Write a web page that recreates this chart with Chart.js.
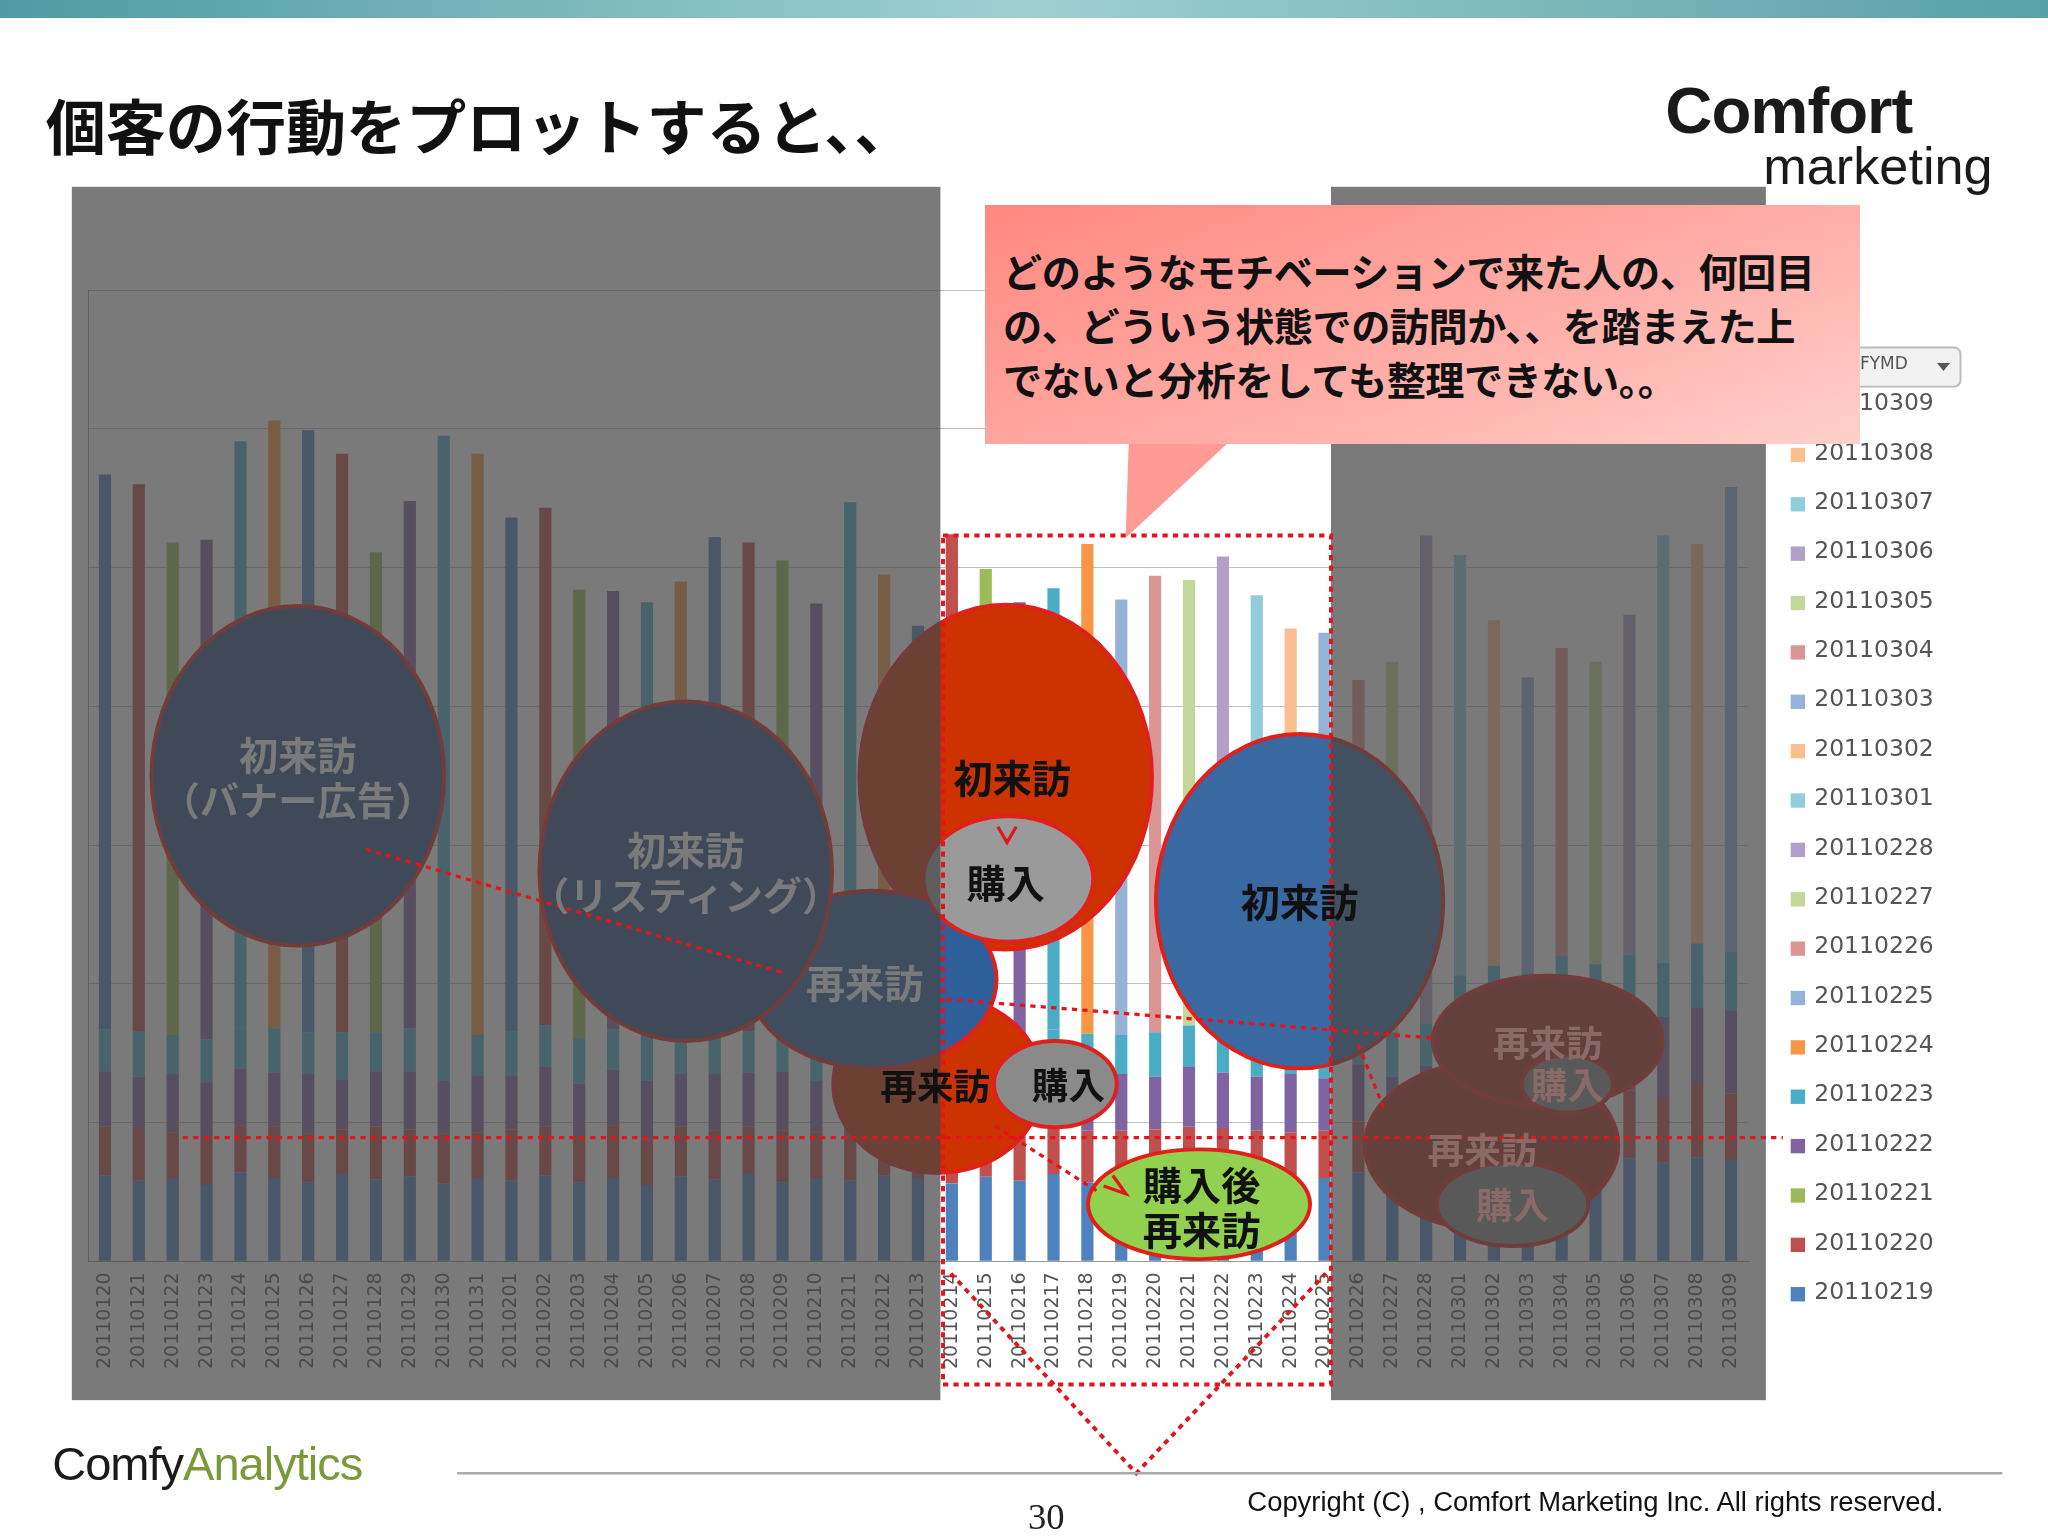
<!DOCTYPE html>
<html><head><meta charset="utf-8">
<script src="https://cdn.jsdelivr.net/npm/chart.js@4.4.0/dist/chart.umd.min.js"></script>
<style>
html,body{margin:0;padding:0;background:#fff;}
#wrap{position:relative;width:2048px;height:1536px;overflow:hidden;font-family:"Noto Sans CJK JP","Noto Sans",sans-serif;}
#c{position:absolute;left:0;top:0;}
.t{position:absolute;white-space:nowrap;line-height:1.15;}
</style></head>
<body><div id="wrap"><canvas id="c" width="2048" height="1536"></canvas></div>
<script>
const dates=["20110120","20110121","20110122","20110123","20110124","20110125","20110126","20110127","20110128","20110129","20110130","20110131",
"20110201","20110202","20110203","20110204","20110205","20110206","20110207","20110208","20110209","20110210","20110211","20110212","20110213","20110214",
"20110215","20110216","20110217","20110218","20110219","20110220","20110221","20110222","20110223","20110224","20110225","20110226","20110227","20110228",
"20110301","20110302","20110303","20110304","20110305","20110306","20110307","20110308","20110309"];
const firstVisit=[400,394,355,360,423,438,434,417,346,380,432,419,370,373,323,316,314,327,355,352,339,311,382,328,292,361,331,313,318,353,314,329,321,341,318,288,291,249,267,352,303,249,213,222,218,245,308,288,335];
const repeatA=[62,58,60,55,64,60,57,63,59,61,56,60,58,62,57,60,55,61,59,63,57,60,58,62,60,56,61,58,63,57,60,59,62,58,61,57,60,64,58,62,66,70,68,72,69,74,71,75,73];
const repeatB=[35,38,33,36,34,37,35,32,38,34,36,33,37,35,34,38,33,36,35,34,37,33,36,35,38,34,36,35,33,37,34,36,35,38,33,36,34,37,35,36,45,48,44,50,47,49,46,52,48];
const repeatC=[40,37,42,38,41,39,43,36,40,42,38,41,39,43,37,40,42,38,41,39,43,37,40,42,38,41,40,39,42,37,41,38,43,40,39,42,38,41,40,43,55,52,58,54,57,53,59,56,60];
const repeatD=[30,33,28,31,29,32,30,34,28,31,33,29,32,30,33,29,31,28,32,30,29,33,31,28,30,32,31,30,29,33,28,32,30,31,29,33,30,28,32,30,40,43,38,44,41,45,39,46,42];
const legendDates=["20110309","20110308","20110307","20110306","20110305","20110304","20110303","20110302","20110301","20110228","20110227","20110226","20110225","20110224","20110223","20110222","20110221","20110220","20110219"];

const S=2048/1568;
const base=["#4F81BD","#C0504D","#9BBB59","#8064A2","#4BACC6","#F79646"];
const light=["#95B3D7","#DA9694","#C4D79B","#B1A0C7","#92CDDC","#FABF8F"];
const barColors=dates.map((d,i)=>i<30?base[i%6]:light[i%6]);
const legColors=legendDates.map((d,i)=>{const k=18-i;return k<6?base[k%6]:light[k%6];});

function ell(ctx,x,y,rx,ry,fill,stroke){ctx.beginPath();ctx.ellipse(x,y,rx,ry,0,0,Math.PI*2);ctx.fillStyle=fill;ctx.fill();ctx.lineWidth=3;ctx.strokeStyle=stroke||"#e0201a";ctx.stroke();}
function dline(ctx,pts){ctx.beginPath();ctx.moveTo(pts[0][0],pts[0][1]);for(let i=1;i<pts.length;i++)ctx.lineTo(pts[i][0],pts[i][1]);ctx.stroke();}

const overlay={id:'overlay',afterDraw(chart){
 const ctx=chart.ctx;ctx.save();ctx.scale(S,S);
 ell(ctx,770,595,112,132,"#cc3300");
 ell(ctx,718,830,80,68,"#cc3300");
 ell(ctx,668,750,95,68,"#2f5f9a");
 ell(ctx,772,673,65,48,"#9a9a9a");
 ell(ctx,808,830,47,33,"#8a8a8a");
 ell(ctx,995,690,110,128,"#3a68a0");
 ell(ctx,228,594,112,130,"#2f5080");
 ell(ctx,525,667,112,130,"#2f5080");
 ell(ctx,1142,877,97,65,"#b03020");
 ell(ctx,1185,797,88,50,"#b03020");
 ell(ctx,1200,830,35,22,"#8a8a8a");
 ell(ctx,1158,922,58,32,"#8a8a8a");
 ell(ctx,918,922,85,42,"#92d050");
 ctx.fillStyle="rgba(70,70,70,0.72)";
 ctx.fillRect(55,143,665,929);
 ctx.fillRect(1019,143,333,929);
 ctx.strokeStyle="#e3141b";ctx.lineWidth=3;ctx.setLineDash([4,4]);
 ctx.strokeRect(722,410,297,650);
 dline(ctx,[[728,975],[870,1128],[1015,975]]);
 ctx.lineWidth=2.5;
 dline(ctx,[[140,871],[1365,871]]);
 dline(ctx,[[280,650],[600,745]]);
 dline(ctx,[[725,765],[1100,795]]);
 dline(ctx,[[762,862],[840,912]]);
 dline(ctx,[[1040,800],[1060,850]]);
 ctx.setLineDash([]);
 ctx.strokeStyle="#e3141b";ctx.lineWidth=2.5;
 dline(ctx,[[764,633],[771,645],[778,633]]);
 dline(ctx,[[845,908],[862,914],[852,900]]);
 legendDates.forEach((d,i)=>{ctx.fillStyle=legColors[i];ctx.fillRect(1371,305+i*37.8,11,11);});
 ctx.fillStyle="#f2f2f2";ctx.strokeStyle="#bbb";ctx.lineWidth=1.5;
 ctx.beginPath();ctx.roundRect(1415,266,86,30,5);ctx.fill();ctx.stroke();
 ctx.fillStyle="#555";ctx.beginPath();ctx.moveTo(1483,278);ctx.lineTo(1493,278);ctx.lineTo(1488,284);ctx.fill();
 ctx.strokeStyle="#aaa";ctx.lineWidth=2;dline(ctx,[[350,1128],[1533,1128]]);
 ctx.restore();
}};

new Chart(document.getElementById('c'),{
 type:'bar',
 data:{labels:dates,datasets:[
  {label:'A',data:repeatA,backgroundColor:"#4F81BD"},
  {label:'B',data:repeatB,backgroundColor:"#C0504D"},
  {label:'C',data:repeatC,backgroundColor:"#8064A2"},
  {label:'D',data:repeatD,backgroundColor:"#4BACC6"},
  {label:'初来訪',data:firstVisit,backgroundColor:barColors}
 ]},
 options:{responsive:false,animation:false,devicePixelRatio:1,
  layout:{padding:{left:88,right:300,top:290,bottom:164}},
  plugins:{legend:{display:false},tooltip:{enabled:false}},
  datasets:{bar:{barPercentage:0.36,categoryPercentage:1}},
  scales:{
   x:{stacked:true,grid:{display:false},border:{color:'#999'},
      ticks:{minRotation:90,maxRotation:90,autoSkip:false,color:'#555',font:{family:'DejaVu Sans',size:19}}},
   y:{stacked:true,min:0,max:700,grid:{color:'#bfbfbf',drawTicks:false},border:{color:'#999'},
      ticks:{display:false,stepSize:100}}
  }},
 plugins:[overlay]
});

const W=document.getElementById('wrap');
function T(txt,x,y,size,css){const d=document.createElement('div');d.className='t';d.innerHTML=txt;
 d.style.left=(x*S)+'px';d.style.top=(y*S)+'px';d.style.fontSize=(size*S)+'px';
 if(css)d.style.cssText+=css;W.appendChild(d);return d;}
function C(txt,x,y,size,color,extra){return T(txt,x,y,size,'transform:translate(-50%,-50%);text-align:center;font-weight:bold;color:'+color+';'+(extra||''));}

const strip=document.createElement('div');strip.style.cssText='position:absolute;left:0;top:0;width:2048px;height:'+(14*S)+'px;background:linear-gradient(90deg,#4f9aa5,#9fd0d0,#5aa0a8);';W.appendChild(strip);
T('個客の行動をプロットすると、、',35,68,46,'font-weight:bold;color:#111;');
T('Comfort',1275,56,50,'font-family:"Liberation Sans",Arial;font-weight:bold;color:#1a1a1a;letter-spacing:-1px;');
T('marketing',1350,104,40,'font-family:"Liberation Sans",Arial;color:#1a1a1a;');
T('Comfy<span style="color:#7a9a3a">Analytics</span>',40,1100,36,'font-family:"Liberation Sans",Arial;color:#1a1a1a;letter-spacing:-1px;');
T('30',787,1145,28,'font-family:"Liberation Serif",serif;color:#222;');
T('Copyright (C) , Comfort Marketing Inc. All rights reserved.',955,1138,21,'font-family:"Liberation Sans",Arial;color:#111;');

legendDates.forEach((d,i)=>T(d,1389,298+i*37.8,18,'font-family:"DejaVu Sans";color:#555;'));
T('FYMD',1424,271,13,'font-family:"DejaVu Sans";color:#555;');

C('初来訪<br>（バナー広告）',228,594,30,'#7a7a7a');
C('初来訪<br>（リスティング）',525,667,30,'#7a7a7a');
C('再来訪',662,752,30,'#7a7a7a');
C('初来訪',775,595,30,'#111');
C('購入',770,675,30,'#111');
C('再来訪',716,831,28,'#111');
C('購入',818,830,28,'#111');
C('初来訪',995,690,30,'#111');
C('購入後<br>再来訪',920,923,30,'#111');
C('再来訪',1185,798,28,'#8a6a66');
C('購入',1200,830,28,'#8a6a66');
C('再来訪',1135,880,28,'#8a6a66');
C('購入',1158,922,28,'#8a6a66');

const tri=document.createElement('div');tri.style.cssText='position:absolute;left:'+(860*S)+'px;top:'+(330*S)+'px;width:'+(90*S)+'px;height:'+(82*S)+'px;background:#ff9a94;clip-path:polygon(5% 0,100% 0,2% 100%);';W.appendChild(tri);
const box=document.createElement('div');box.style.cssText='position:absolute;left:'+(754*S)+'px;top:'+(157*S)+'px;width:'+(670*S)+'px;height:'+(183*S)+'px;background:linear-gradient(160deg,#ff8880,#ffb0aa 60%,#ffd0cc);';W.appendChild(box);
T('どのようなモチベーションで来た人の、何回目<br>の、どういう状態での訪問か、、を踏まえた上<br>でないと分析をしても整理できない。。',768,186,30,'font-weight:bold;color:#111;line-height:1.38;letter-spacing:-0.5px;');
</script></body></html>
